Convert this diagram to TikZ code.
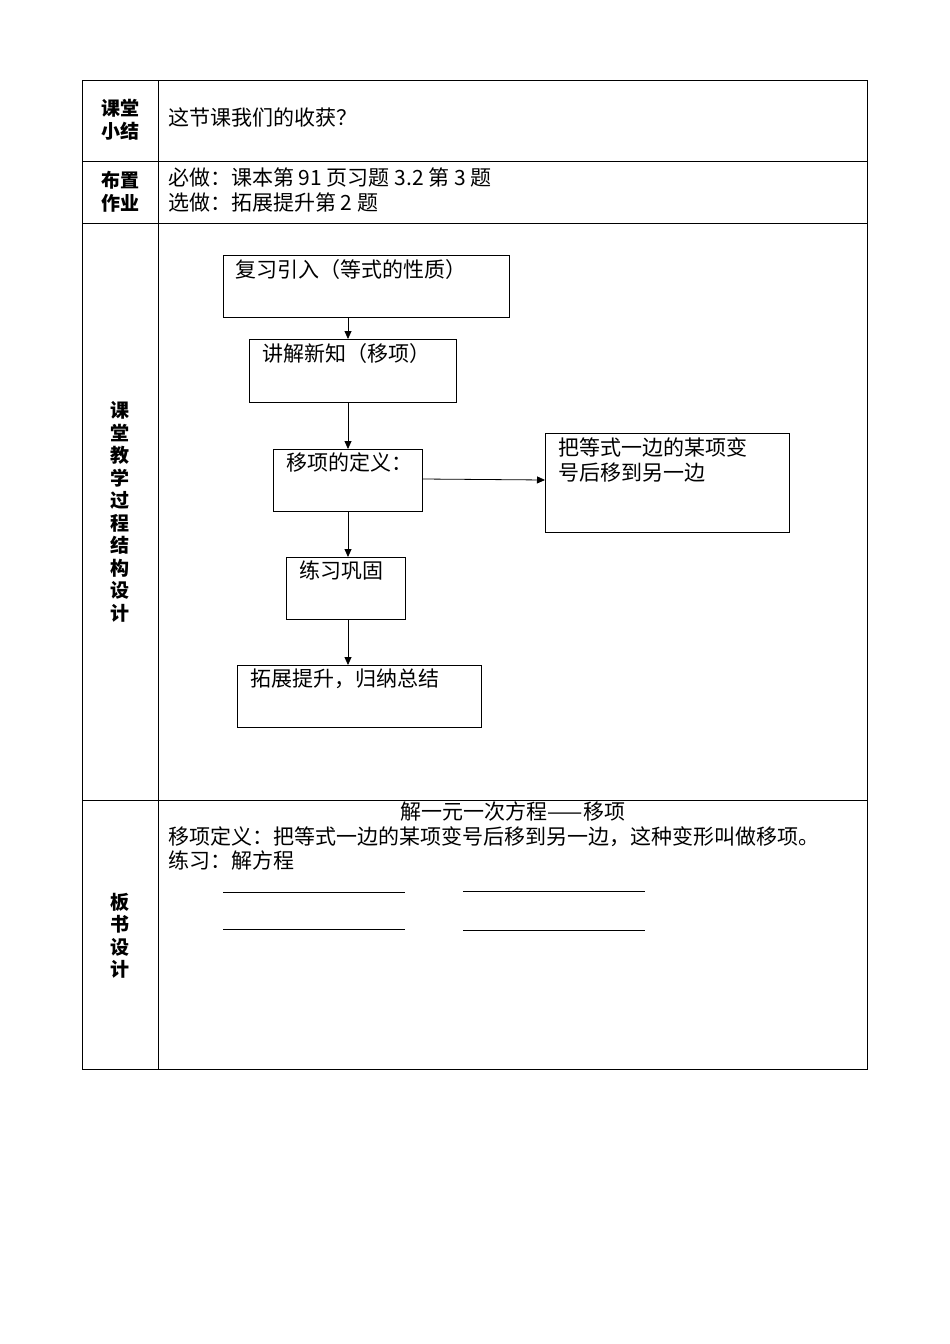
\documentclass[tikz,border=0pt]{standalone}
\usepackage{fontspec}
\setmainfont{Liberation Serif}
\newfontfamily\cjk{Noto Sans CJK SC}
\usetikzlibrary{arrows.meta}
\begin{document}
\begin{tikzpicture}[x=1pt,y=-1pt,
  box/.style={draw,thick,rectangle,inner sep=0,anchor=north west},
  txt/.style={anchor=north west,inner sep=0,font=\cjk\fontsize{21}{25}\selectfont},
  lab/.style={inner sep=0,align=center,font=\cjk\bfseries\fontsize{19}{23}\selectfont},
  arr/.style={-{Triangle[length=8pt,width=7pt]},thick},
  tline/.style={thick}]
\useasboundingbox (0,0) rectangle (950,1344);
% table
\draw[tline] (82,80) rectangle (867,1069);
\draw[tline] (158,80) -- (158,1069);
\foreach \y in {161,223,800} \draw[tline] (82,\y) -- (867,\y);
% left labels
\node[lab] (l1) at (120,120) {课堂\\小结};
\node[lab] (l2) at (120,192) {布置\\作业};
\node[lab,font=\cjk\bfseries\fontsize{19}{22.5}\selectfont] (l3) at (120,512) {课\\堂\\教\\学\\过\\程\\结\\构\\设\\计};
\node[lab,font=\cjk\bfseries\fontsize{19}{22.5}\selectfont] (l4) at (120,936) {板\\书\\设\\计};
% row texts
\node[txt] (t1) at (168,108) {这节课我们的收获？};
\node[txt] (t2) at (168,168) {必做：课本第 91 页习题 3.2 第 3 题};
\node[txt] (t3) at (168,193) {选做：拓展提升第 2 题};
% flowchart
\node[box,minimum width=286,minimum height=62] (b1) at (223,255) {};
\node[txt] at (235,259) {复习引入（等式的性质）};
\node[box,minimum width=207,minimum height=63] (b2) at (249,339) {};
\node[txt] at (262,343) {讲解新知（移项）};
\node[box,minimum width=149,minimum height=62] (b3) at (273,449) {};
\node[txt] at (286,453) {移项的定义：};
\node[box,minimum width=244,minimum height=99] (b4) at (545,433) {};
\node[txt,align=left] at (558,437) {把等式一边的某项变\\号后移到另一边};
\node[box,minimum width=119,minimum height=62] (b5) at (286,557) {};
\node[txt] at (299,561) {练习巩固};
\node[box,minimum width=244,minimum height=62] (b6) at (237,665) {};
\node[txt] at (250,669) {拓展提升，归纳总结};
\draw[arr] (b1.south -| 348,0) -- (b2.north -| 348,0);
\draw[arr] (b2.south -| 348,0) -- (b3.north -| 348,0);
\draw[arr] (b3.south -| 348,0) -- (b5.north -| 348,0);
\draw[arr] (b5.south -| 348,0) -- (b6.north -| 348,0);
\draw[arr] (b3.east |- 0,479) -- (b4.west |- 0,480);
% board
\node[txt,anchor=north] (h) at (513,802) {解一元一次方程——移项};
\node[txt] (d1) at (168,826) {移项定义：把等式一边的某项变号后移到另一边，这种变形叫做移项。};
\node[txt] (d2) at (168,851) {练习：解方程};
\draw (223,892) -- (405,892);
\draw (223,929) -- (405,929);
\draw (463,891) -- (645,891);
\draw (463,930) -- (645,930);
\end{tikzpicture}
\end{document}
